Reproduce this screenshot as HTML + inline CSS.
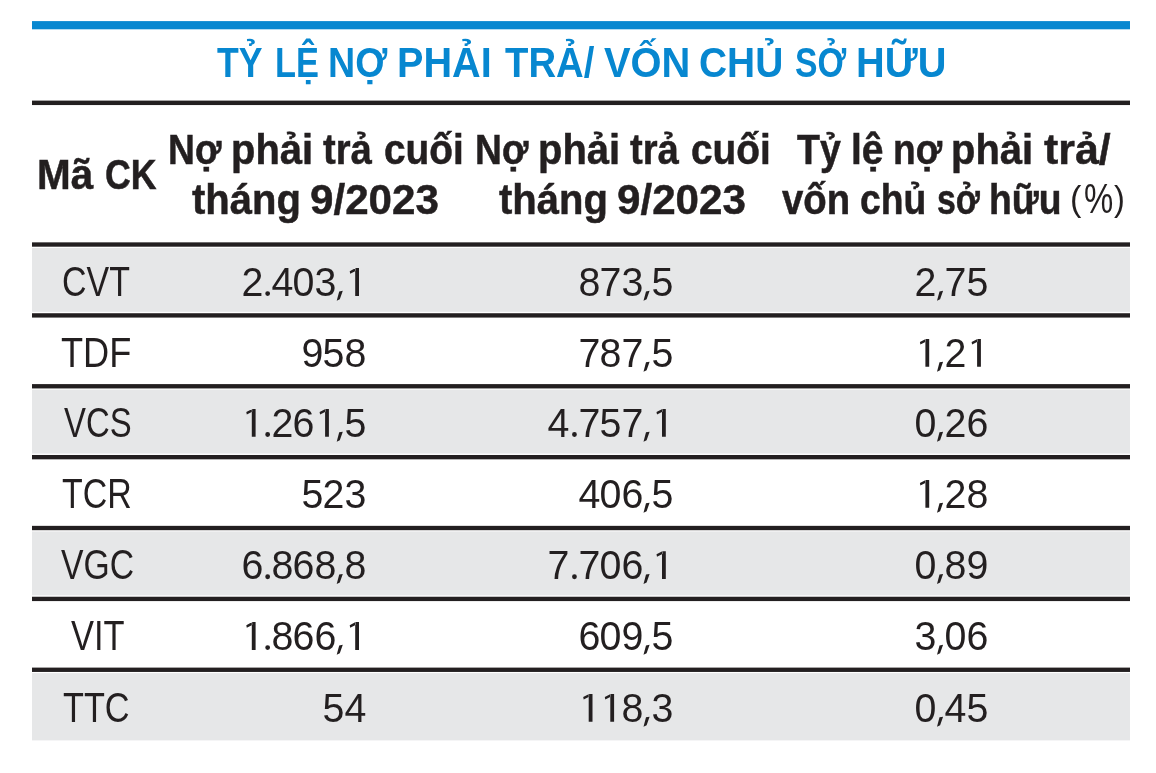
<!DOCTYPE html>
<html><head><meta charset="utf-8"><style>
html,body{margin:0;padding:0;background:#fff;}
body{width:1156px;height:773px;position:relative;overflow:hidden;font-family:"Liberation Sans",sans-serif;}
.r{position:absolute;}
.layer{position:absolute;left:0;top:0;width:1156px;height:773px;will-change:transform;}
.t{position:absolute;white-space:pre;transform-origin:0 0;}
</style></head><body>
<svg class="r" style="left:0;top:0" width="1156" height="773" viewBox="0 0 1156 773"><rect x="32" y="21.1" width="1098" height="8.2" fill="#0787d0"/><rect x="32" y="100.6" width="1098" height="4.45" fill="#231f20"/><rect x="32" y="247.90" width="1098" height="63.93" fill="#e6e7e8"/><rect x="32" y="389.65" width="1098" height="63.93" fill="#e6e7e8"/><rect x="32" y="531.40" width="1098" height="63.92" fill="#e6e7e8"/><rect x="32" y="673.15" width="1098" height="67.25" fill="#e6e7e8"/><rect x="32" y="242.35" width="1098" height="4.35" fill="#231f20"/><rect x="32" y="313.23" width="1098" height="4.35" fill="#231f20"/><rect x="32" y="384.10" width="1098" height="4.35" fill="#231f20"/><rect x="32" y="454.98" width="1098" height="4.35" fill="#231f20"/><rect x="32" y="525.85" width="1098" height="4.35" fill="#231f20"/><rect x="32" y="596.73" width="1098" height="4.35" fill="#231f20"/><rect x="32" y="667.60" width="1098" height="4.35" fill="#231f20"/><path fill="#231f20" d="M355.20 268.00H359.00V295.90H355.20ZM355.60 268.00L349.70 271.20L350.20 273.70L355.60 270.90ZM339.20 291.40L342.80 290.80L339.80 299.30L336.70 300.80ZM265.25 293.60a2.4 2.4 0 1 0 4.8 0a2.4 2.4 0 1 0 -4.8 0ZM646.00 291.40L649.60 290.80L646.60 299.30L643.50 300.80ZM939.50 291.40L943.10 290.80L940.10 299.30L937.00 300.80ZM646.00 362.30L649.60 361.70L646.60 370.20L643.50 371.70ZM977.10 338.90H980.90V366.80H977.10ZM977.50 338.90L971.60 342.10L972.10 344.60L977.50 341.80ZM939.50 362.30L943.10 361.70L940.10 370.20L937.00 371.70ZM925.40 338.90H929.20V366.80H925.40ZM925.80 338.90L919.90 342.10L920.40 344.60L925.80 341.80ZM339.20 432.30L342.80 431.70L339.80 440.20L336.70 441.70ZM325.10 408.90H328.90V436.80H325.10ZM325.50 408.90L319.60 412.10L320.10 414.60L325.50 411.80ZM265.25 434.50a2.4 2.4 0 1 0 4.8 0a2.4 2.4 0 1 0 -4.8 0ZM251.80 408.90H255.60V436.80H251.80ZM252.20 408.90L246.30 412.10L246.80 414.60L252.20 411.80ZM662.00 408.90H665.80V436.80H662.00ZM662.40 408.90L656.50 412.10L657.00 414.60L662.40 411.80ZM646.00 432.30L649.60 431.70L646.60 440.20L643.50 441.70ZM572.05 434.50a2.4 2.4 0 1 0 4.8 0a2.4 2.4 0 1 0 -4.8 0ZM939.50 432.30L943.10 431.70L940.10 440.20L937.00 441.70ZM646.00 503.30L649.60 502.70L646.60 511.20L643.50 512.70ZM939.50 503.30L943.10 502.70L940.10 511.20L937.00 512.70ZM925.40 479.90H929.20V507.80H925.40ZM925.80 479.90L919.90 483.10L920.40 485.60L925.80 482.80ZM339.20 574.55L342.80 573.95L339.80 582.45L336.70 583.95ZM265.25 576.75a2.4 2.4 0 1 0 4.8 0a2.4 2.4 0 1 0 -4.8 0ZM662.00 551.15H665.80V579.05H662.00ZM662.40 551.15L656.50 554.35L657.00 556.85L662.40 554.05ZM646.00 574.55L649.60 573.95L646.60 582.45L643.50 583.95ZM572.05 576.75a2.4 2.4 0 1 0 4.8 0a2.4 2.4 0 1 0 -4.8 0ZM939.50 574.55L943.10 573.95L940.10 582.45L937.00 583.95ZM355.20 622.00H359.00V649.90H355.20ZM355.60 622.00L349.70 625.20L350.20 627.70L355.60 624.90ZM339.20 645.40L342.80 644.80L339.80 653.30L336.70 654.80ZM265.25 647.60a2.4 2.4 0 1 0 4.8 0a2.4 2.4 0 1 0 -4.8 0ZM251.80 622.00H255.60V649.90H251.80ZM252.20 622.00L246.30 625.20L246.80 627.70L252.20 624.90ZM646.00 645.40L649.60 644.80L646.60 653.30L643.50 654.80ZM939.50 645.40L943.10 644.80L940.10 653.30L937.00 654.80ZM646.00 717.30L649.60 716.70L646.60 725.20L643.50 726.70ZM610.30 693.90H614.10V721.80H610.30ZM610.70 693.90L604.80 697.10L605.30 699.60L610.70 696.80ZM588.70 693.90H592.50V721.80H588.70ZM589.10 693.90L583.20 697.10L583.70 699.60L589.10 696.80ZM939.50 717.30L943.10 716.70L940.10 725.20L937.00 726.70Z"/></svg>
<div class="layer">
<div class="t" style="left:216.90px;top:42.0px;font-size:42px;line-height:42px;font-weight:700;color:#0787d0;transform:scaleX(0.8472)">TỶ</div>
<div class="t" style="left:275.44px;top:42.0px;font-size:42px;line-height:42px;font-weight:700;color:#0787d0;transform:scaleX(0.8184)">LỆ</div>
<div class="t" style="left:328.31px;top:42.0px;font-size:42px;line-height:42px;font-weight:700;color:#0787d0;transform:scaleX(0.8952)">NỢ</div>
<div class="t" style="left:396.97px;top:42.0px;font-size:42px;line-height:42px;font-weight:700;color:#0787d0;transform:scaleX(0.9432)">PHẢI</div>
<div class="t" style="left:504.50px;top:42.0px;font-size:42px;line-height:42px;font-weight:700;color:#0787d0;transform:scaleX(0.9112)">TRẢ/</div>
<div class="t" style="left:604.10px;top:42.0px;font-size:42px;line-height:42px;font-weight:700;color:#0787d0;transform:scaleX(0.9489)">VỐN</div>
<div class="t" style="left:699.45px;top:42.0px;font-size:42px;line-height:42px;font-weight:700;color:#0787d0;transform:scaleX(0.9253)">CHỦ</div>
<div class="t" style="left:795.20px;top:42.0px;font-size:42px;line-height:42px;font-weight:700;color:#0787d0;transform:scaleX(0.8032)">SỞ</div>
<div class="t" style="left:855.96px;top:42.0px;font-size:42px;line-height:42px;font-weight:700;color:#0787d0;transform:scaleX(0.9467)">HỮU</div>
<div class="t" style="left:37.19px;top:153.8px;font-size:41.7px;line-height:41.7px;font-weight:700;color:#231f20;transform:scaleX(0.9709);-webkit-text-stroke:0.5px #231f20">Mã</div>
<div class="t" style="left:104.68px;top:153.8px;font-size:41.7px;line-height:41.7px;font-weight:700;color:#231f20;transform:scaleX(0.8579);-webkit-text-stroke:0.5px #231f20">CK</div>
<div class="t" style="left:168.12px;top:128.8px;font-size:41.7px;line-height:41.7px;font-weight:700;color:#231f20;transform:scaleX(0.8930);-webkit-text-stroke:0.5px #231f20">Nợ</div>
<div class="t" style="left:230.63px;top:128.8px;font-size:41.7px;line-height:41.7px;font-weight:700;color:#231f20;transform:scaleX(0.9575);-webkit-text-stroke:0.5px #231f20">phải</div>
<div class="t" style="left:323.00px;top:128.8px;font-size:41.7px;line-height:41.7px;font-weight:700;color:#231f20;transform:scaleX(0.9148);-webkit-text-stroke:0.5px #231f20">trả</div>
<div class="t" style="left:384.04px;top:128.8px;font-size:41.7px;line-height:41.7px;font-weight:700;color:#231f20;transform:scaleX(0.9321);-webkit-text-stroke:0.5px #231f20">cuối</div>
<div class="t" style="left:192.20px;top:178.6px;font-size:41.7px;line-height:41.7px;font-weight:700;color:#231f20;transform:scaleX(0.9604);-webkit-text-stroke:0.5px #231f20">tháng</div>
<div class="t" style="left:310.29px;top:178.6px;font-size:41.7px;line-height:41.7px;font-weight:700;color:#231f20;transform:scaleX(1.0112);-webkit-text-stroke:0.5px #231f20">9/2023</div>
<div class="t" style="left:475.32px;top:128.8px;font-size:41.7px;line-height:41.7px;font-weight:700;color:#231f20;transform:scaleX(0.8930);-webkit-text-stroke:0.5px #231f20">Nợ</div>
<div class="t" style="left:537.83px;top:128.8px;font-size:41.7px;line-height:41.7px;font-weight:700;color:#231f20;transform:scaleX(0.9575);-webkit-text-stroke:0.5px #231f20">phải</div>
<div class="t" style="left:630.20px;top:128.8px;font-size:41.7px;line-height:41.7px;font-weight:700;color:#231f20;transform:scaleX(0.9148);-webkit-text-stroke:0.5px #231f20">trả</div>
<div class="t" style="left:691.24px;top:128.8px;font-size:41.7px;line-height:41.7px;font-weight:700;color:#231f20;transform:scaleX(0.9321);-webkit-text-stroke:0.5px #231f20">cuối</div>
<div class="t" style="left:499.40px;top:178.6px;font-size:41.7px;line-height:41.7px;font-weight:700;color:#231f20;transform:scaleX(0.9604);-webkit-text-stroke:0.5px #231f20">tháng</div>
<div class="t" style="left:617.49px;top:178.6px;font-size:41.7px;line-height:41.7px;font-weight:700;color:#231f20;transform:scaleX(1.0112);-webkit-text-stroke:0.5px #231f20">9/2023</div>
<div class="t" style="left:796.90px;top:128.8px;font-size:41.7px;line-height:41.7px;font-weight:700;color:#231f20;transform:scaleX(0.9000);-webkit-text-stroke:0.5px #231f20">Tỷ</div>
<div class="t" style="left:851.09px;top:128.8px;font-size:41.7px;line-height:41.7px;font-weight:700;color:#231f20;transform:scaleX(0.9367);-webkit-text-stroke:0.5px #231f20">lệ</div>
<div class="t" style="left:893.23px;top:128.8px;font-size:41.7px;line-height:41.7px;font-weight:700;color:#231f20;transform:scaleX(0.8904);-webkit-text-stroke:0.5px #231f20">nợ</div>
<div class="t" style="left:950.83px;top:128.8px;font-size:41.7px;line-height:41.7px;font-weight:700;color:#231f20;transform:scaleX(0.9575);-webkit-text-stroke:0.5px #231f20">phải</div>
<div class="t" style="left:1044.00px;top:128.8px;font-size:41.7px;line-height:41.7px;font-weight:700;color:#231f20;transform:scaleX(1.0266);-webkit-text-stroke:0.5px #231f20">trả/</div>
<div class="t" style="left:782.00px;top:178.7px;font-size:41.7px;line-height:41.7px;font-weight:700;color:#231f20;transform:scaleX(0.9194);-webkit-text-stroke:0.5px #231f20">vốn</div>
<div class="t" style="left:860.41px;top:178.7px;font-size:41.7px;line-height:41.7px;font-weight:700;color:#231f20;transform:scaleX(0.8943);-webkit-text-stroke:0.5px #231f20">chủ</div>
<div class="t" style="left:937.17px;top:178.7px;font-size:41.7px;line-height:41.7px;font-weight:700;color:#231f20;transform:scaleX(0.8137);-webkit-text-stroke:0.5px #231f20">sở</div>
<div class="t" style="left:988.52px;top:178.7px;font-size:41.7px;line-height:41.7px;font-weight:700;color:#231f20;transform:scaleX(0.8947);-webkit-text-stroke:0.5px #231f20">hữu</div>
<div class="t" style="left:1070.34px;top:181.3px;font-size:41.7px;line-height:41.7px;font-weight:400;color:#231f20;transform:scale(0.8200,0.8550)">(</div>
<div class="t" style="left:1084.41px;top:178.4px;font-size:41.7px;line-height:41.7px;font-weight:400;color:#231f20;transform:scaleX(0.7886)">%</div>
<div class="t" style="left:1114.22px;top:181.3px;font-size:41.7px;line-height:41.7px;font-weight:400;color:#231f20;transform:scale(0.7800,0.8550)">)</div>
<div class="t" style="left:62.37px;top:260.9px;font-size:41.7px;line-height:41.7px;font-weight:400;color:#231f20;transform:scaleX(0.8148)">CVT</div>
<div class="t" style="left:61.13px;top:331.8px;font-size:41.7px;line-height:41.7px;font-weight:400;color:#231f20;transform:scaleX(0.8679)">TDF</div>
<div class="t" style="left:63.50px;top:401.8px;font-size:41.7px;line-height:41.7px;font-weight:400;color:#231f20;transform:scaleX(0.7881)">VCS</div>
<div class="t" style="left:62.19px;top:472.8px;font-size:41.7px;line-height:41.7px;font-weight:400;color:#231f20;transform:scaleX(0.8134)">TCR</div>
<div class="t" style="left:60.60px;top:544.0px;font-size:41.7px;line-height:41.7px;font-weight:400;color:#231f20;transform:scaleX(0.8090)">VGC</div>
<div class="t" style="left:70.90px;top:614.9px;font-size:41.7px;line-height:41.7px;font-weight:400;color:#231f20;transform:scaleX(0.8266)">VIT</div>
<div class="t" style="left:62.68px;top:686.8px;font-size:41.7px;line-height:41.7px;font-weight:400;color:#231f20;transform:scaleX(0.8218)">TTC</div>
<div class="t" style="left:313.90px;top:261.9px;font-size:41px;line-height:41px;font-weight:400;color:#231f20;width:22.80px;transform-origin:50% 0;transform:scaleX(0.96)">3</div>
<div class="t" style="left:292.30px;top:261.9px;font-size:41px;line-height:41px;font-weight:400;color:#231f20;width:22.80px;transform-origin:50% 0;transform:scaleX(0.96)">0</div>
<div class="t" style="left:270.70px;top:261.9px;font-size:41px;line-height:41px;font-weight:400;color:#231f20;width:22.80px;transform-origin:50% 0;transform:scaleX(0.96)">4</div>
<div class="t" style="left:240.60px;top:261.9px;font-size:41px;line-height:41px;font-weight:400;color:#231f20;width:22.80px;transform-origin:50% 0;transform:scaleX(0.96)">2</div>
<div class="t" style="left:650.80px;top:261.9px;font-size:41px;line-height:41px;font-weight:400;color:#231f20;width:22.80px;transform-origin:50% 0;transform:scaleX(0.96)">5</div>
<div class="t" style="left:620.70px;top:261.9px;font-size:41px;line-height:41px;font-weight:400;color:#231f20;width:22.80px;transform-origin:50% 0;transform:scaleX(0.96)">3</div>
<div class="t" style="left:599.10px;top:261.9px;font-size:41px;line-height:41px;font-weight:400;color:#231f20;width:22.80px;transform-origin:50% 0;transform:scaleX(0.96)">7</div>
<div class="t" style="left:577.50px;top:261.9px;font-size:41px;line-height:41px;font-weight:400;color:#231f20;width:22.80px;transform-origin:50% 0;transform:scaleX(0.96)">8</div>
<div class="t" style="left:965.90px;top:261.9px;font-size:41px;line-height:41px;font-weight:400;color:#231f20;width:22.80px;transform-origin:50% 0;transform:scaleX(0.96)">5</div>
<div class="t" style="left:944.30px;top:261.9px;font-size:41px;line-height:41px;font-weight:400;color:#231f20;width:22.80px;transform-origin:50% 0;transform:scaleX(0.96)">7</div>
<div class="t" style="left:914.20px;top:261.9px;font-size:41px;line-height:41px;font-weight:400;color:#231f20;width:22.80px;transform-origin:50% 0;transform:scaleX(0.96)">2</div>
<div class="t" style="left:344.00px;top:332.8px;font-size:41px;line-height:41px;font-weight:400;color:#231f20;width:22.80px;transform-origin:50% 0;transform:scaleX(0.96)">8</div>
<div class="t" style="left:322.40px;top:332.8px;font-size:41px;line-height:41px;font-weight:400;color:#231f20;width:22.80px;transform-origin:50% 0;transform:scaleX(0.96)">5</div>
<div class="t" style="left:300.80px;top:332.8px;font-size:41px;line-height:41px;font-weight:400;color:#231f20;width:22.80px;transform-origin:50% 0;transform:scaleX(0.96)">9</div>
<div class="t" style="left:650.80px;top:332.8px;font-size:41px;line-height:41px;font-weight:400;color:#231f20;width:22.80px;transform-origin:50% 0;transform:scaleX(0.96)">5</div>
<div class="t" style="left:620.70px;top:332.8px;font-size:41px;line-height:41px;font-weight:400;color:#231f20;width:22.80px;transform-origin:50% 0;transform:scaleX(0.96)">7</div>
<div class="t" style="left:599.10px;top:332.8px;font-size:41px;line-height:41px;font-weight:400;color:#231f20;width:22.80px;transform-origin:50% 0;transform:scaleX(0.96)">8</div>
<div class="t" style="left:577.50px;top:332.8px;font-size:41px;line-height:41px;font-weight:400;color:#231f20;width:22.80px;transform-origin:50% 0;transform:scaleX(0.96)">7</div>
<div class="t" style="left:944.30px;top:332.8px;font-size:41px;line-height:41px;font-weight:400;color:#231f20;width:22.80px;transform-origin:50% 0;transform:scaleX(0.96)">2</div>
<div class="t" style="left:344.00px;top:402.8px;font-size:41px;line-height:41px;font-weight:400;color:#231f20;width:22.80px;transform-origin:50% 0;transform:scaleX(0.96)">5</div>
<div class="t" style="left:292.30px;top:402.8px;font-size:41px;line-height:41px;font-weight:400;color:#231f20;width:22.80px;transform-origin:50% 0;transform:scaleX(0.96)">6</div>
<div class="t" style="left:270.70px;top:402.8px;font-size:41px;line-height:41px;font-weight:400;color:#231f20;width:22.80px;transform-origin:50% 0;transform:scaleX(0.96)">2</div>
<div class="t" style="left:620.70px;top:402.8px;font-size:41px;line-height:41px;font-weight:400;color:#231f20;width:22.80px;transform-origin:50% 0;transform:scaleX(0.96)">7</div>
<div class="t" style="left:599.10px;top:402.8px;font-size:41px;line-height:41px;font-weight:400;color:#231f20;width:22.80px;transform-origin:50% 0;transform:scaleX(0.96)">5</div>
<div class="t" style="left:577.50px;top:402.8px;font-size:41px;line-height:41px;font-weight:400;color:#231f20;width:22.80px;transform-origin:50% 0;transform:scaleX(0.96)">7</div>
<div class="t" style="left:547.40px;top:402.8px;font-size:41px;line-height:41px;font-weight:400;color:#231f20;width:22.80px;transform-origin:50% 0;transform:scaleX(0.96)">4</div>
<div class="t" style="left:965.90px;top:402.8px;font-size:41px;line-height:41px;font-weight:400;color:#231f20;width:22.80px;transform-origin:50% 0;transform:scaleX(0.96)">6</div>
<div class="t" style="left:944.30px;top:402.8px;font-size:41px;line-height:41px;font-weight:400;color:#231f20;width:22.80px;transform-origin:50% 0;transform:scaleX(0.96)">2</div>
<div class="t" style="left:914.20px;top:402.8px;font-size:41px;line-height:41px;font-weight:400;color:#231f20;width:22.80px;transform-origin:50% 0;transform:scaleX(0.96)">0</div>
<div class="t" style="left:344.00px;top:473.8px;font-size:41px;line-height:41px;font-weight:400;color:#231f20;width:22.80px;transform-origin:50% 0;transform:scaleX(0.96)">3</div>
<div class="t" style="left:322.40px;top:473.8px;font-size:41px;line-height:41px;font-weight:400;color:#231f20;width:22.80px;transform-origin:50% 0;transform:scaleX(0.96)">2</div>
<div class="t" style="left:300.80px;top:473.8px;font-size:41px;line-height:41px;font-weight:400;color:#231f20;width:22.80px;transform-origin:50% 0;transform:scaleX(0.96)">5</div>
<div class="t" style="left:650.80px;top:473.8px;font-size:41px;line-height:41px;font-weight:400;color:#231f20;width:22.80px;transform-origin:50% 0;transform:scaleX(0.96)">5</div>
<div class="t" style="left:620.70px;top:473.8px;font-size:41px;line-height:41px;font-weight:400;color:#231f20;width:22.80px;transform-origin:50% 0;transform:scaleX(0.96)">6</div>
<div class="t" style="left:599.10px;top:473.8px;font-size:41px;line-height:41px;font-weight:400;color:#231f20;width:22.80px;transform-origin:50% 0;transform:scaleX(0.96)">0</div>
<div class="t" style="left:577.50px;top:473.8px;font-size:41px;line-height:41px;font-weight:400;color:#231f20;width:22.80px;transform-origin:50% 0;transform:scaleX(0.96)">4</div>
<div class="t" style="left:965.90px;top:473.8px;font-size:41px;line-height:41px;font-weight:400;color:#231f20;width:22.80px;transform-origin:50% 0;transform:scaleX(0.96)">8</div>
<div class="t" style="left:944.30px;top:473.8px;font-size:41px;line-height:41px;font-weight:400;color:#231f20;width:22.80px;transform-origin:50% 0;transform:scaleX(0.96)">2</div>
<div class="t" style="left:344.00px;top:545.0px;font-size:41px;line-height:41px;font-weight:400;color:#231f20;width:22.80px;transform-origin:50% 0;transform:scaleX(0.96)">8</div>
<div class="t" style="left:313.90px;top:545.0px;font-size:41px;line-height:41px;font-weight:400;color:#231f20;width:22.80px;transform-origin:50% 0;transform:scaleX(0.96)">8</div>
<div class="t" style="left:292.30px;top:545.0px;font-size:41px;line-height:41px;font-weight:400;color:#231f20;width:22.80px;transform-origin:50% 0;transform:scaleX(0.96)">6</div>
<div class="t" style="left:270.70px;top:545.0px;font-size:41px;line-height:41px;font-weight:400;color:#231f20;width:22.80px;transform-origin:50% 0;transform:scaleX(0.96)">8</div>
<div class="t" style="left:240.60px;top:545.0px;font-size:41px;line-height:41px;font-weight:400;color:#231f20;width:22.80px;transform-origin:50% 0;transform:scaleX(0.96)">6</div>
<div class="t" style="left:620.70px;top:545.0px;font-size:41px;line-height:41px;font-weight:400;color:#231f20;width:22.80px;transform-origin:50% 0;transform:scaleX(0.96)">6</div>
<div class="t" style="left:599.10px;top:545.0px;font-size:41px;line-height:41px;font-weight:400;color:#231f20;width:22.80px;transform-origin:50% 0;transform:scaleX(0.96)">0</div>
<div class="t" style="left:577.50px;top:545.0px;font-size:41px;line-height:41px;font-weight:400;color:#231f20;width:22.80px;transform-origin:50% 0;transform:scaleX(0.96)">7</div>
<div class="t" style="left:547.40px;top:545.0px;font-size:41px;line-height:41px;font-weight:400;color:#231f20;width:22.80px;transform-origin:50% 0;transform:scaleX(0.96)">7</div>
<div class="t" style="left:965.90px;top:545.0px;font-size:41px;line-height:41px;font-weight:400;color:#231f20;width:22.80px;transform-origin:50% 0;transform:scaleX(0.96)">9</div>
<div class="t" style="left:944.30px;top:545.0px;font-size:41px;line-height:41px;font-weight:400;color:#231f20;width:22.80px;transform-origin:50% 0;transform:scaleX(0.96)">8</div>
<div class="t" style="left:914.20px;top:545.0px;font-size:41px;line-height:41px;font-weight:400;color:#231f20;width:22.80px;transform-origin:50% 0;transform:scaleX(0.96)">0</div>
<div class="t" style="left:313.90px;top:615.9px;font-size:41px;line-height:41px;font-weight:400;color:#231f20;width:22.80px;transform-origin:50% 0;transform:scaleX(0.96)">6</div>
<div class="t" style="left:292.30px;top:615.9px;font-size:41px;line-height:41px;font-weight:400;color:#231f20;width:22.80px;transform-origin:50% 0;transform:scaleX(0.96)">6</div>
<div class="t" style="left:270.70px;top:615.9px;font-size:41px;line-height:41px;font-weight:400;color:#231f20;width:22.80px;transform-origin:50% 0;transform:scaleX(0.96)">8</div>
<div class="t" style="left:650.80px;top:615.9px;font-size:41px;line-height:41px;font-weight:400;color:#231f20;width:22.80px;transform-origin:50% 0;transform:scaleX(0.96)">5</div>
<div class="t" style="left:620.70px;top:615.9px;font-size:41px;line-height:41px;font-weight:400;color:#231f20;width:22.80px;transform-origin:50% 0;transform:scaleX(0.96)">9</div>
<div class="t" style="left:599.10px;top:615.9px;font-size:41px;line-height:41px;font-weight:400;color:#231f20;width:22.80px;transform-origin:50% 0;transform:scaleX(0.96)">0</div>
<div class="t" style="left:577.50px;top:615.9px;font-size:41px;line-height:41px;font-weight:400;color:#231f20;width:22.80px;transform-origin:50% 0;transform:scaleX(0.96)">6</div>
<div class="t" style="left:965.90px;top:615.9px;font-size:41px;line-height:41px;font-weight:400;color:#231f20;width:22.80px;transform-origin:50% 0;transform:scaleX(0.96)">6</div>
<div class="t" style="left:944.30px;top:615.9px;font-size:41px;line-height:41px;font-weight:400;color:#231f20;width:22.80px;transform-origin:50% 0;transform:scaleX(0.96)">0</div>
<div class="t" style="left:914.20px;top:615.9px;font-size:41px;line-height:41px;font-weight:400;color:#231f20;width:22.80px;transform-origin:50% 0;transform:scaleX(0.96)">3</div>
<div class="t" style="left:344.00px;top:687.8px;font-size:41px;line-height:41px;font-weight:400;color:#231f20;width:22.80px;transform-origin:50% 0;transform:scaleX(0.96)">4</div>
<div class="t" style="left:322.40px;top:687.8px;font-size:41px;line-height:41px;font-weight:400;color:#231f20;width:22.80px;transform-origin:50% 0;transform:scaleX(0.96)">5</div>
<div class="t" style="left:650.80px;top:687.8px;font-size:41px;line-height:41px;font-weight:400;color:#231f20;width:22.80px;transform-origin:50% 0;transform:scaleX(0.96)">3</div>
<div class="t" style="left:620.70px;top:687.8px;font-size:41px;line-height:41px;font-weight:400;color:#231f20;width:22.80px;transform-origin:50% 0;transform:scaleX(0.96)">8</div>
<div class="t" style="left:965.90px;top:687.8px;font-size:41px;line-height:41px;font-weight:400;color:#231f20;width:22.80px;transform-origin:50% 0;transform:scaleX(0.96)">5</div>
<div class="t" style="left:944.30px;top:687.8px;font-size:41px;line-height:41px;font-weight:400;color:#231f20;width:22.80px;transform-origin:50% 0;transform:scaleX(0.96)">4</div>
<div class="t" style="left:914.20px;top:687.8px;font-size:41px;line-height:41px;font-weight:400;color:#231f20;width:22.80px;transform-origin:50% 0;transform:scaleX(0.96)">0</div>
</div>
</body></html>
